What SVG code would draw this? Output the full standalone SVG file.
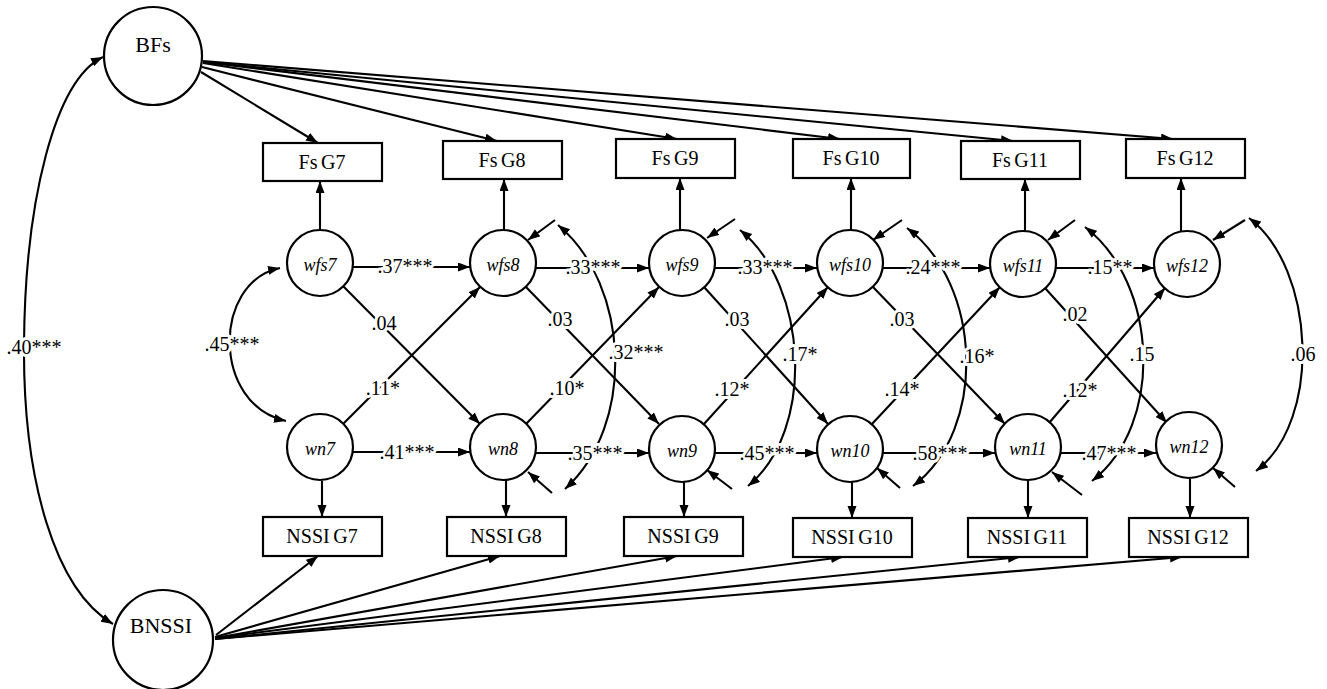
<svg xmlns="http://www.w3.org/2000/svg" width="1327" height="689" viewBox="0 0 1327 689">
<style>
.n{fill:#fff;stroke:#000;stroke-width:2.2}
.bt{font-family:"Liberation Serif","Times New Roman",serif;font-size:20px;text-anchor:middle;fill:#000;word-spacing:-1.5px}
.ct{font-family:"Liberation Serif","Times New Roman",serif;font-size:18px;font-style:italic;text-anchor:middle;fill:#000}
.big{font-family:"Liberation Serif","Times New Roman",serif;font-size:22px;text-anchor:middle;fill:#000}
.e{fill:none;stroke:#000;stroke-width:2.1;marker-end:url(#ah)}
.d{fill:none;stroke:#000;stroke-width:2.1;marker-start:url(#ah);marker-end:url(#ah)}
.l{font-family:"Liberation Serif","Times New Roman",serif;font-size:20px;text-anchor:middle;fill:#000;stroke:#fff;stroke-width:6px;paint-order:stroke;stroke-linejoin:round}
</style>
<defs>
<marker id="ah" markerUnits="userSpaceOnUse" markerWidth="13" markerHeight="10" refX="12" refY="4.5" orient="auto-start-reverse" viewBox="0 0 13 10">
<path d="M0,0 L12,4.5 L0,9 z" fill="#000"/>
</marker>
</defs>
<rect width="1327" height="689" fill="#fff"/>

<g id="connectors">
<line class="e" x1="201" y1="72" x2="318" y2="143"/>
<line class="e" x1="202" y1="67" x2="497" y2="141"/>
<line class="e" x1="203" y1="63" x2="677" y2="139"/>
<line class="e" x1="203" y1="62" x2="840" y2="139"/>
<line class="e" x1="203" y1="62" x2="1013" y2="141"/>
<line class="e" x1="203" y1="61" x2="1173" y2="139"/>
<line class="e" x1="216" y1="635" x2="318" y2="556"/>
<line class="e" x1="215" y1="637" x2="500" y2="556"/>
<line class="e" x1="215" y1="638" x2="677" y2="556"/>
<line class="e" x1="215" y1="638" x2="843" y2="557"/>
<line class="e" x1="215" y1="639" x2="1020" y2="557"/>
<line class="e" x1="215" y1="639" x2="1182" y2="557"/>
<line class="e" x1="320" y1="229" x2="320" y2="181"/>
<line class="e" x1="504" y1="230" x2="504" y2="179"/>
<line class="e" x1="680" y1="230" x2="680" y2="178"/>
<line class="e" x1="851" y1="230" x2="851" y2="178"/>
<line class="e" x1="1025" y1="231" x2="1025" y2="179"/>
<line class="e" x1="1181" y1="232" x2="1181" y2="178"/>
<line class="e" x1="322" y1="481" x2="322" y2="517"/>
<line class="e" x1="506" y1="481" x2="506" y2="517"/>
<line class="e" x1="684" y1="482" x2="684" y2="517"/>
<line class="e" x1="852" y1="482" x2="852" y2="518"/>
<line class="e" x1="1028" y1="481" x2="1028" y2="518"/>
<line class="e" x1="1190" y1="479" x2="1190" y2="518"/>
<line class="e" x1="353" y1="267" x2="470" y2="267"/>
<line class="e" x1="536" y1="268" x2="649" y2="268"/>
<line class="e" x1="715" y1="268" x2="817" y2="268"/>
<line class="e" x1="883" y1="268" x2="990" y2="268"/>
<line class="e" x1="1056" y1="268" x2="1154" y2="268"/>
<line class="e" x1="353" y1="452" x2="470" y2="452"/>
<line class="e" x1="536" y1="453" x2="649" y2="453"/>
<line class="e" x1="715" y1="453" x2="817" y2="453"/>
<line class="e" x1="883" y1="453" x2="995" y2="453"/>
<line class="e" x1="1061" y1="453" x2="1156" y2="453"/>
<line class="e" x1="343" y1="286" x2="480" y2="424"/>
<line class="e" x1="343" y1="424" x2="480" y2="287"/>
<line class="e" x1="526" y1="287" x2="659" y2="424"/>
<line class="e" x1="526" y1="424" x2="659" y2="287"/>
<line class="e" x1="704" y1="287" x2="828" y2="424"/>
<line class="e" x1="704" y1="424" x2="828" y2="287"/>
<line class="e" x1="873" y1="287" x2="1005" y2="424"/>
<line class="e" x1="872" y1="424" x2="1000" y2="287"/>
<line class="e" x1="1045" y1="288" x2="1167" y2="423"/>
<line class="e" x1="1049" y1="423" x2="1165" y2="288"/>
<line class="e" x1="555" y1="220" x2="528" y2="240"/>
<line class="e" x1="735" y1="219" x2="707" y2="238"/>
<line class="e" x1="902" y1="220" x2="873" y2="240"/>
<line class="e" x1="1075" y1="220" x2="1048" y2="240"/>
<line class="e" x1="1245" y1="220" x2="1213" y2="240"/>
<line class="e" x1="552" y1="493" x2="528" y2="472"/>
<line class="e" x1="732" y1="489" x2="707" y2="470"/>
<line class="e" x1="900" y1="488" x2="877" y2="468"/>
<line class="e" x1="1082" y1="495" x2="1052" y2="472"/>
<line class="e" x1="1235" y1="487" x2="1213" y2="468"/>
<path class="d" d="M103,57 C55,80 25,200 24,345 C23,480 55,590 113,624"/>
<path class="d" d="M280,268 C212,282 212,405 286,421"/>
<path class="d" d="M558,225 C630,285 636,425 565,489"/>
<path class="d" d="M740,230 C808,285 816,430 748,486"/>
<path class="d" d="M907,228 C982,284 988,429 913,486"/>
<path class="d" d="M1085,227 C1158,283 1165,424 1092,481"/>
<path class="d" d="M1249,218 C1315,268 1323,420 1256,471"/>
</g>

<g id="labels">
<text class="l" x="34" y="354">.40***</text>
<text class="l" x="232" y="351">.45***</text>
<text class="l" x="405" y="273">.37***</text>
<text class="l" x="593" y="274">.33***</text>
<text class="l" x="765" y="274">.33***</text>
<text class="l" x="933" y="274">.24***</text>
<text class="l" x="1110" y="274">.15**</text>
<text class="l" x="407" y="459">.41***</text>
<text class="l" x="595" y="460">.35***</text>
<text class="l" x="767" y="460">.45***</text>
<text class="l" x="940" y="460">.58***</text>
<text class="l" x="1109" y="460">.47***</text>
<text class="l" x="384" y="330">.04</text>
<text class="l" x="383" y="395">.11*</text>
<text class="l" x="560" y="326">.03</text>
<text class="l" x="567" y="395">.10*</text>
<text class="l" x="737" y="326">.03</text>
<text class="l" x="732" y="396">.12*</text>
<text class="l" x="902" y="326">.03</text>
<text class="l" x="902" y="396">.14*</text>
<text class="l" x="1075" y="321">.02</text>
<text class="l" x="1080" y="397">.12*</text>
<text class="l" x="636" y="359">.32***</text>
<text class="l" x="800" y="361">.17*</text>
<text class="l" x="977" y="363">.16*</text>
<text class="l" x="1142" y="361">.15</text>
<text class="l" x="1303" y="361">.06</text>
</g>

<g id="BFs"><circle class="n" cx="153" cy="56" r="49"/><text class="big" x="153" y="52">BFs</text></g>
<g id="BNSSI"><circle class="n" cx="163" cy="640" r="50"/><text class="big" x="161" y="633">BNSSI</text></g>

<g id="FsG7"><rect class="n" x="263" y="143" width="119" height="38"/><text class="bt" x="322" y="169">Fs G7</text></g>
<g id="FsG8"><rect class="n" x="443" y="141" width="119" height="38"/><text class="bt" x="502" y="167">Fs G8</text></g>
<g id="FsG9"><rect class="n" x="616" y="139" width="119" height="39"/><text class="bt" x="675" y="165">Fs G9</text></g>
<g id="FsG10"><rect class="n" x="793" y="139" width="117" height="39"/><text class="bt" x="851" y="165">Fs G10</text></g>
<g id="FsG11"><rect class="n" x="961" y="141" width="119" height="38"/><text class="bt" x="1020" y="167">Fs G11</text></g>
<g id="FsG12"><rect class="n" x="1126" y="139" width="119" height="39"/><text class="bt" x="1185" y="165">Fs G12</text></g>

<g id="NSSIG7"><rect class="n" x="263" y="517" width="119" height="39"/><text class="bt" x="322" y="543">NSSI G7</text></g>
<g id="NSSIG8"><rect class="n" x="447" y="517" width="119" height="39"/><text class="bt" x="506" y="543">NSSI G8</text></g>
<g id="NSSIG9"><rect class="n" x="624" y="517" width="119" height="39"/><text class="bt" x="683" y="543">NSSI G9</text></g>
<g id="NSSIG10"><rect class="n" x="793" y="518" width="119" height="39"/><text class="bt" x="852" y="544">NSSI G10</text></g>
<g id="NSSIG11"><rect class="n" x="968" y="518" width="119" height="39"/><text class="bt" x="1027" y="544">NSSI G11</text></g>
<g id="NSSIG12"><rect class="n" x="1129" y="518" width="119" height="39"/><text class="bt" x="1188" y="544">NSSI G12</text></g>

<g id="wfs7"><circle class="n" cx="320" cy="263" r="33"/><text class="ct" x="320" y="271">wfs7</text></g>
<g id="wfs8"><circle class="n" cx="503" cy="263" r="33"/><text class="ct" x="503" y="271">wfs8</text></g>
<g id="wfs9"><circle class="n" cx="682" cy="263" r="33"/><text class="ct" x="682" y="271">wfs9</text></g>
<g id="wfs10"><circle class="n" cx="850" cy="263" r="33"/><text class="ct" x="850" y="271">wfs10</text></g>
<g id="wfs11"><circle class="n" cx="1023" cy="264" r="33"/><text class="ct" x="1023" y="272">wfs11</text></g>
<g id="wfs12"><circle class="n" cx="1187" cy="264" r="33"/><text class="ct" x="1187" y="272">wfs12</text></g>

<g id="wn7"><circle class="n" cx="320" cy="447" r="33"/><text class="ct" x="320" y="455">wn7</text></g>
<g id="wn8"><circle class="n" cx="503" cy="447" r="33"/><text class="ct" x="503" y="455">wn8</text></g>
<g id="wn9"><circle class="n" cx="682" cy="449" r="33"/><text class="ct" x="682" y="457">wn9</text></g>
<g id="wn10"><circle class="n" cx="850" cy="449" r="33"/><text class="ct" x="850" y="457">wn10</text></g>
<g id="wn11"><circle class="n" cx="1028" cy="447" r="33"/><text class="ct" x="1028" y="455">wn11</text></g>
<g id="wn12"><circle class="n" cx="1189" cy="445" r="33"/><text class="ct" x="1189" y="453">wn12</text></g>
</svg>
